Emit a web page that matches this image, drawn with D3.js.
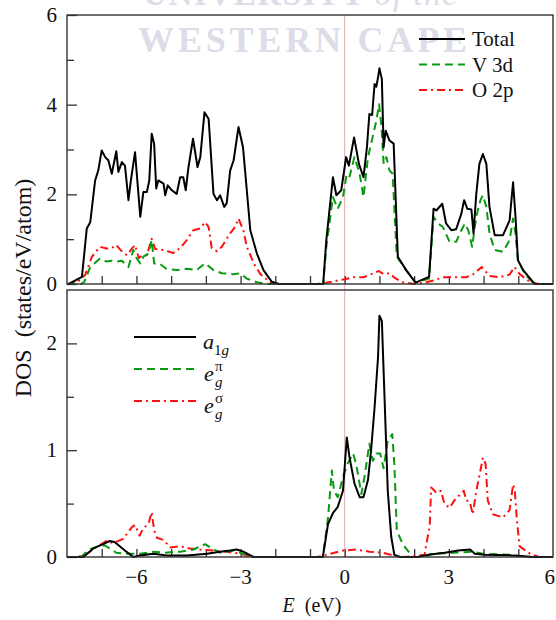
<!DOCTYPE html>
<html>
<head>
<meta charset="utf-8">
<script src="https://cdn.jsdelivr.net/npm/d3@7"></script>
<style>
  body { margin: 0; background: #fff; }
  text { font-family: "Liberation Serif", "DejaVu Serif", serif; fill: #111; }
  .frame { fill: none; stroke: #333; stroke-width: 1.4; }
  .tick line { stroke: #333; stroke-width: 1.3; }
</style>
</head>
<body>
<script>
'use strict'

// energy (eV), DOS (states/eV/atom)
const totalDos = [[-8,0],[-7.95,0],[-7.57,0.16],[-7.43,1.24],[-7.33,1.38],[-7.19,2.31],[-7.1,2.53],[-7,2.98],
  [-6.9,2.83],[-6.81,2.76],[-6.71,2.46],[-6.58,2.96],[-6.52,2.5],[-6.42,2.72],[-6.33,2.64],[-6.23,1.87],
  [-6.16,2.31],[-6.04,2.94],[-5.89,1.5],[-5.8,2.05],[-5.7,2.05],[-5.63,2.31],[-5.56,3.35],[-5.49,3.13],
  [-5.43,2.13],[-5.37,2.31],[-5.22,2.24],[-5.17,1.98],[-5.1,2.2],[-4.98,2.09],[-4.84,2.01],[-4.74,2.38],
  [-4.65,2.38],[-4.58,2.09],[-4.5,2.61],[-4.37,3.24],[-4.24,2.61],[-4.16,2.83],[-4.04,3.83],[-3.92,3.68],
  [-3.78,2.01],[-3.68,1.87],[-3.59,1.98],[-3.47,1.72],[-3.4,1.8],[-3.3,2.53],[-3.2,2.76],[-3.06,3.5],
  [-2.93,3.05],[-2.82,2.09],[-2.72,1.2],[-2.53,0.68],[-2.34,0.31],[-2.1,0.05],[-1.9,0],[-0.62,0],
  [-0.53,0.98],[-0.34,2.38],[-0.24,1.98],[-0.1,2.09],[0.04,2.83],[0.12,2.64],[0.27,3.27],[0.41,2.68],
  [0.54,2.38],[0.64,3.05],[0.71,3.79],[0.79,3.77],[0.86,4.46],[0.91,4.4],[0.96,4.61],[1,4.81],[1.07,4.57],
  [1.12,3.05],[1.18,3.42],[1.29,3.2],[1.41,3.13],[1.53,0.61],[1.77,0.31],[2.04,0.03],[2.43,0.16],
  [2.56,1.68],[2.64,1.64],[2.81,1.79],[2.92,1.35],[3.07,1.2],[3.21,1.22],[3.36,1.57],[3.44,1.87],
  [3.53,1.68],[3.65,1.66],[3.71,1.13],[3.79,2.01],[3.88,2.68],[3.98,2.9],[4.08,2.68],[4.17,1.72],
  [4.32,1.09],[4.56,1.09],[4.75,1.42],[4.85,2.27],[4.92,1.5],[4.99,0.53],[5.14,0.31],[5.47,0],[6,0]];

const v3dDos = [[-8,0],[-7.6,0],[-7.5,0.05],[-7.33,0.38],[-7.05,0.57],[-6.86,0.5],[-6.71,0.52],[-6.58,0.5],
  [-6.42,0.52],[-6.23,0.38],[-6.09,0.76],[-5.99,0.57],[-5.89,0.46],[-5.8,0.61],[-5.65,0.68],[-5.56,0.98],
  [-5.49,0.46],[-5.34,0.46],[-5.14,0.34],[-4.84,0.31],[-4.55,0.34],[-4.27,0.31],[-4.02,0.46],[-3.78,0.31],
  [-3.54,0.24],[-3.2,0.22],[-3.01,0.24],[-2.82,0.12],[-2.53,0.04],[-2.25,0],[-0.62,0],[-0.53,0.83],
  [-0.34,1.94],[-0.2,1.68],[-0.05,1.94],[0.06,2.46],[0.14,2.4],[0.28,2.83],[0.43,2.46],[0.54,1.94],
  [0.67,2.83],[0.76,3.13],[0.91,3.64],[0.99,4.01],[1.06,3.5],[1.12,2.68],[1.2,2.83],[1.29,2.53],
  [1.38,2.46],[1.5,0.61],[1.77,0.31],[2.04,0.03],[2.43,0.12],[2.56,1.5],[2.69,1.35],[2.83,1.27],
  [3.02,0.94],[3.21,0.94],[3.36,1.2],[3.46,1.35],[3.56,1.2],[3.67,0.83],[3.79,1.5],[3.91,1.87],
  [3.98,1.98],[4.08,1.72],[4.17,1.13],[4.32,0.76],[4.56,0.72],[4.75,0.98],[4.85,1.46],[4.92,1.13],
  [4.99,0.53],[5.19,0.22],[5.47,0],[6,0]];

const o2pDos = [[-8,0],[-7.73,0.02],[-7.48,0.2],[-7.28,0.61],[-7.05,0.83],[-6.86,0.79],[-6.71,0.8],
  [-6.58,0.87],[-6.45,0.75],[-6.27,0.64],[-6.12,0.8],[-6.04,0.87],[-5.93,0.58],[-5.83,0.64],[-5.7,0.64],
  [-5.56,1.01],[-5.46,0.78],[-5.22,0.76],[-4.94,0.69],[-4.74,0.8],[-4.55,0.98],[-4.36,1.2],[-4.16,1.24],
  [-4.02,1.38],[-3.92,1.27],[-3.83,0.8],[-3.68,0.73],[-3.54,0.83],[-3.3,1.13],[-3.16,1.27],[-3.06,1.46],
  [-2.92,1.2],[-2.82,0.83],[-2.62,0.46],[-2.43,0.22],[-2.14,0.04],[-1.9,0],[-0.8,0],[-0.53,0.03],
  [-0.05,0.1],[0.25,0.15],[0.54,0.15],[0.83,0.24],[0.98,0.29],[1.12,0.22],[1.29,0.24],[1.45,0.13],
  [1.67,0.04],[2.0,0],[2.3,0.03],[2.56,0.08],[2.83,0.15],[3.11,0.15],[3.5,0.15],[3.69,0.21],[3.95,0.38],
  [4.17,0.18],[4.46,0.15],[4.75,0.21],[4.89,0.38],[5.04,0.22],[5.34,0.04],[5.6,0],[6,0]];

const a1gDos = [[-8,0],[-7.53,0],[-7.24,0.08],[-6.96,0.12],[-6.77,0.15],[-6.63,0.14],[-6.48,0.1],
  [-6.29,0.05],[-6.09,0],[-5.9,0.015],[-5.51,0.03],[-5.13,0.015],[-4.55,0.015],[-3.97,0.03],[-3.59,0.05],
  [-3.3,0.06],[-3.11,0.07],[-2.92,0.05],[-2.63,0],[-0.63,0],[-0.48,0.31],[-0.34,0.41],[-0.2,0.47],
  [-0.05,0.62],[0.06,1.12],[0.14,0.93],[0.28,0.69],[0.43,0.56],[0.54,0.56],[0.67,0.72],[0.76,1],
  [0.86,1.4],[0.96,1.87],[1,2.26],[1.07,2.21],[1.14,1.56],[1.24,0.62],[1.34,0.19],[1.43,0.02],[1.6,0],
  [2.1,0],[2.4,0.02],[2.88,0.04],[3.27,0.06],[3.61,0.07],[3.75,0.03],[4.04,0.02],[4.81,0.015],[5.1,0.01],
  [5.4,0],[6,0]];

const egPiDos = [[-8,0],[-7.6,0],[-7.36,0.07],[-7.12,0.1],[-6.92,0.11],[-6.77,0.08],[-6.58,0.04],
  [-6.29,0.03],[-5.9,0.03],[-5.51,0.05],[-5.22,0.04],[-4.74,0.05],[-4.36,0.07],[-4.02,0.12],[-3.88,0.09],
  [-3.59,0.04],[-3.2,0.06],[-2.92,0.03],[-2.63,0],[-0.63,0],[-0.48,0.37],[-0.37,0.81],[-0.31,0.62],
  [-0.2,0.56],[-0.05,0.75],[0.08,0.87],[0.24,0.97],[0.33,0.87],[0.48,0.59],[0.57,0.75],[0.71,1.06],
  [0.81,0.9],[0.91,0.97],[1.02,0.97],[1.12,0.83],[1.24,1.09],[1.37,1.15],[1.43,0.87],[1.5,0.25],
  [1.67,0.12],[1.96,0],[2.2,0],[2.56,0.03],[3.13,0.04],[3.69,0.05],[3.98,0.03],[4.75,0.02],[5.34,0],[6,0]];

const egSigmaDos = [[-8,0],[-7.7,0],[-7.43,0.03],[-7.12,0.1],[-6.86,0.15],[-6.67,0.13],[-6.38,0.17],
  [-6.13,0.28],[-6.04,0.3],[-5.91,0.2],[-5.8,0.27],[-5.65,0.31],[-5.56,0.42],[-5.49,0.25],[-5.41,0.18],
  [-5.22,0.16],[-5.03,0.09],[-4.74,0.1],[-4.46,0.08],[-4.17,0.07],[-3.78,0.06],[-3.4,0.05],[-3.01,0.03],
  [-2.63,0],[-0.8,0],[-0.53,0.02],[-0.05,0.06],[0.33,0.07],[0.71,0.05],[1.1,0.04],[1.39,0.015],[1.7,0],
  [2.3,0.02],[2.45,0.3],[2.49,0.65],[2.56,0.63],[2.64,0.6],[2.77,0.62],[2.87,0.5],[3.02,0.46],[3.16,0.53],
  [3.31,0.58],[3.43,0.62],[3.5,0.53],[3.6,0.52],[3.69,0.4],[3.79,0.62],[3.91,0.81],[3.98,0.93],[4.06,0.87],
  [4.12,0.53],[4.27,0.4],[4.56,0.37],[4.75,0.44],[4.85,0.68],[4.9,0.62],[4.96,0.34],[5.04,0.1],
  [5.34,0.03],[5.6,0],[6,0]];

const xTicks = [-6, -3, 0, 3, 6];
const topYTicks = [0, 2, 4, 6];
const bottomYTicks = [0, 1, 2];
const topLegend = ['Total', 'V 3d', 'O 2p'];

const W = 556, H = 620;
const left = 67, right = 553;

const svg = d3.select('body').append('svg')
  .attr('width', W)
  .attr('height', H);

const x = d3.scaleLinear().domain([-8, 6]).range([left, right]);
const yTop = d3.scaleLinear().domain([0, 6]).range([284, 15]);
const yBot = d3.scaleLinear().domain([0, 2.5]).range([557, 290]);

const styles = {
  black: { stroke: '#000', dash: null, width: 2 },
  green: { stroke: '#0a9a12', dash: '8,5', width: 2 },
  red: { stroke: '#ff1010', dash: '8,4,2,4', width: 2 }
};

// watermark (cut off at the top, as in the scan)
const wm = svg.append('g');
const wm1 = wm.append('text').attr('x', 143).attr('y', 5)
  .attr('textLength', 314).attr('lengthAdjust', 'spacing')
  .style('font-size', '33px').style('font-weight', 'bold').style('fill', '#dcdde8');
wm1.append('tspan').text('UNIVERSITY ');
wm1.append('tspan').style('font-style', 'italic').style('font-weight', 'normal').text('of the');
wm.append('text').attr('x', 138).attr('y', 52)
  .attr('textLength', 329).attr('lengthAdjust', 'spacing')
  .style('font-size', '36px').style('font-weight', 'bold').style('fill', '#dcdde8')
  .text('WESTERN CAPE');

// Fermi level
svg.append('line')
  .attr('x1', x(0)).attr('x2', x(0))
  .attr('y1', yTop(6)).attr('y2', yBot(0))
  .attr('stroke', '#e8a6a6').attr('stroke-width', 1);

const drawPanel = function(y, ticksMajor, minorStep, series) {
  const g = svg.append('g');
  const [y0, y1] = y.domain();

  // x ticks inward
  const xAx = g.append('g').attr('transform', 'translate(0,' + y(y0) + ')')
    .call(d3.axisTop(x).tickValues(d3.range(-7, 6, 1)).tickSize(8).tickFormat(''));
  xAx.select('.domain').remove();

  const yAx = g.append('g').attr('transform', 'translate(' + left + ',0)')
    .call(d3.axisRight(y).tickValues(ticksMajor).tickSize(10).tickFormat(''));
  yAx.select('.domain').remove();
  const minor = d3.range(y0 + minorStep, y1, minorStep * 2);
  const yMin = g.append('g').attr('transform', 'translate(' + left + ',0)')
    .call(d3.axisRight(y).tickValues(minor).tickSize(7).tickFormat(''));
  yMin.select('.domain').remove();

  // tick labels
  g.selectAll('.ylab').data(ticksMajor).enter().append('text')
    .attr('x', 57).attr('y', d => y(d) + 7)
    .attr('text-anchor', 'end')
    .style('font-size', '21px')
    .text(d => d);

  const line = d3.line().x(d => x(d[0])).y(d => y(d[1]));
  series.forEach(s => {
    g.append('path')
      .datum(s.data)
      .attr('d', line)
      .attr('fill', 'none')
      .attr('stroke', styles[s.style].stroke)
      .attr('stroke-width', styles[s.style].width)
      .attr('stroke-dasharray', styles[s.style].dash)
      .attr('stroke-linejoin', 'round');
  });

  g.append('rect').attr('class', 'frame')
    .attr('x', left).attr('y', y(y1))
    .attr('width', right - left).attr('height', y(y0) - y(y1));
  return g;
};

drawPanel(yTop, topYTicks, 1, [
  { data: o2pDos, style: 'red' },
  { data: v3dDos, style: 'green' },
  { data: totalDos, style: 'black' }
]);

drawPanel(yBot, bottomYTicks, 0.5, [
  { data: egSigmaDos, style: 'red' },
  { data: egPiDos, style: 'green' },
  { data: a1gDos, style: 'black' }
]);

// x tick labels (last one pulled inside the page edge)
svg.selectAll('.xlab').data(xTicks).enter().append('text')
  .attr('x', d => d === 6 ? 555 : x(d)).attr('y', 584)
  .attr('text-anchor', d => d === 6 ? 'end' : 'middle')
  .style('font-size', '21px')
  .text(d => d < 0 ? '\u2212' + Math.abs(d) : d);

// axis titles
const xt = svg.append('text').attr('x', 312).attr('y', 612)
  .attr('text-anchor', 'middle').style('font-size', '20px');
xt.append('tspan').style('font-style', 'italic').text('E');
xt.append('tspan').text('\u00a0 (eV)');

svg.append('text')
  .attr('transform', 'translate(31,288) rotate(-90)')
  .attr('text-anchor', 'middle')
  .style('font-size', '24px')
  .text('DOS\u00a0 (states/eV/atom)');

// top legend
const leg1 = svg.append('g');
const legStyles = ['black', 'green', 'red'];
topLegend.forEach((name, i) => {
  const yy = 39 + i * 25.5;
  const st = styles[legStyles[i]];
  leg1.append('line').attr('x1', 419).attr('x2', 465).attr('y1', yy).attr('y2', yy)
    .attr('stroke', st.stroke).attr('stroke-width', st.width).attr('stroke-dasharray', st.dash);
  leg1.append('text').attr('x', 472).attr('y', yy + 7).style('font-size', '21px').text(name);
});

// bottom legend
const leg2 = svg.append('g');
[0, 1, 2].forEach(i => {
  const yy = 337 + i * 32;
  const st = styles[legStyles[i]];
  leg2.append('line').attr('x1', 134).attr('x2', 196).attr('y1', yy).attr('y2', yy)
    .attr('stroke', st.stroke).attr('stroke-width', st.width).attr('stroke-dasharray', st.dash);
});
const a1 = leg2.append('text').attr('x', 203).attr('y', 349).style('font-size', '22px');
a1.append('tspan').style('font-style', 'italic').text('a');
a1.append('tspan').attr('dy', 6).style('font-size', '15px').text('1');
a1.append('tspan').attr('dy', 0).style('font-size', '15px').style('font-style', 'italic').text('g');

[['\u03c0', 381], ['\u03c3', 413]].forEach(([sup, yy]) => {
  leg2.append('text').attr('x', 204).attr('y', yy).style('font-size', '22px')
    .style('font-style', 'italic').text('e');
  leg2.append('text').attr('x', 215).attr('y', yy + 6).style('font-size', '15px')
    .style('font-style', 'italic').text('g');
  leg2.append('text').attr('x', 215).attr('y', yy - 10).style('font-size', '15px').text(sup);
});
</script>
</body>
</html>
